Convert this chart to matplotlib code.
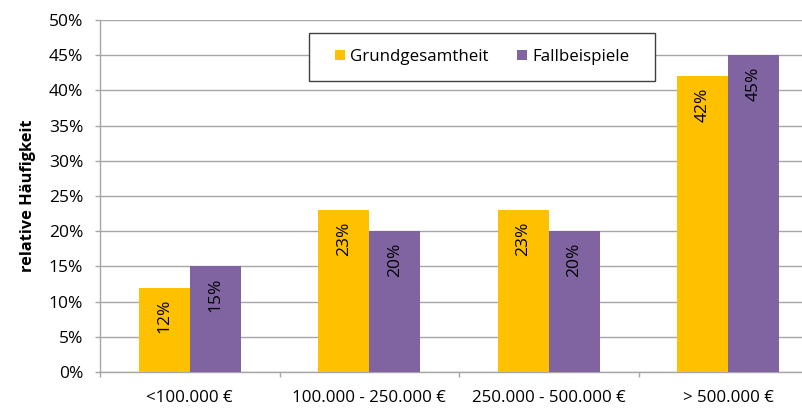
import numpy as np
import matplotlib.pyplot as plt
from matplotlib.patches import Rectangle
from matplotlib.ticker import FixedLocator, PercentFormatter

# Anteile je Vermögensklasse
klassen = ['<100.000 €', '100.000 - 250.000 €', '250.000 - 500.000 €', '> 500.000 €']
grundgesamtheit = [12, 23, 23, 42]
fallbeispiele = [15, 20, 20, 45]

gelb = '#FFC000'
lila = '#8064A2'
grau = '#A6A6A6'

plt.rcParams['font.family'] = ['Open Sans', 'DejaVu Sans']

fig = plt.figure(figsize=(8.03, 4.08), dpi=100)
ax = fig.add_axes([100 / 803, 36 / 408, 718 / 803, 352 / 408])

x = np.arange(len(klassen))
w = 0.285
b1 = ax.bar(x - w / 2, grundgesamtheit, w, color=gelb, label='Grundgesamtheit', zorder=3)
b2 = ax.bar(x + w / 2, fallbeispiele, w, color=lila, label='Fallbeispiele', zorder=3)

# Werte senkrecht oben in den Balken
for bars, werte in [(b1, grundgesamtheit), (b2, fallbeispiele)]:
    for rect, v in zip(bars, werte):
        ax.annotate(f'{v}%', (rect.get_x() + rect.get_width() / 2, v),
                    xytext=(0, -8), textcoords='offset points',
                    rotation=90, ha='center', va='top', fontsize=12.5, color='black', zorder=4)

ax.set_xlim(-0.5, len(klassen) - 0.5)
ax.set_ylim(0, 50)
ax.set_yticks(np.arange(0, 51, 5))
ax.yaxis.set_major_formatter(PercentFormatter(decimals=0))
ax.set_xticks(x)
ax.set_xticklabels(klassen)
ax.xaxis.set_minor_locator(FixedLocator(np.arange(-0.5, len(klassen), 1)))
ax.tick_params(axis='x', which='major', length=0, pad=13, labelsize=12.2)
ax.tick_params(axis='x', which='minor', length=3.6, color=grau, width=1)
ax.tick_params(axis='y', length=3.6, color=grau, width=1, labelsize=12.5, pad=8.5)

ax.yaxis.grid(True, color=grau, linewidth=1, zorder=0)
for s in ['top', 'right']:
    ax.spines[s].set_visible(False)
for s in ['left', 'bottom']:
    ax.spines[s].set_color(grau)
    ax.spines[s].set_linewidth(1)

ax.set_ylabel('relative Häufigkeit', fontsize=11.8, fontweight='bold', labelpad=9)

# Legendenrahmen
ax.add_patch(Rectangle((309 / 803, 327 / 408), 346 / 803, 48 / 408, transform=fig.transFigure,
                       facecolor='white', edgecolor='#404040', linewidth=1, zorder=5, clip_on=False))
leg = ax.legend(loc='center', bbox_to_anchor=(482 / 803, 351 / 408), bbox_transform=fig.transFigure,
                ncol=2, frameon=False, fontsize=12.2,
                handlelength=0.6, handleheight=0.6, handletextpad=0.3, columnspacing=1.7,
                borderpad=0, borderaxespad=0)
leg.set_zorder(6)

fig.savefig('out.png', dpi=100)
